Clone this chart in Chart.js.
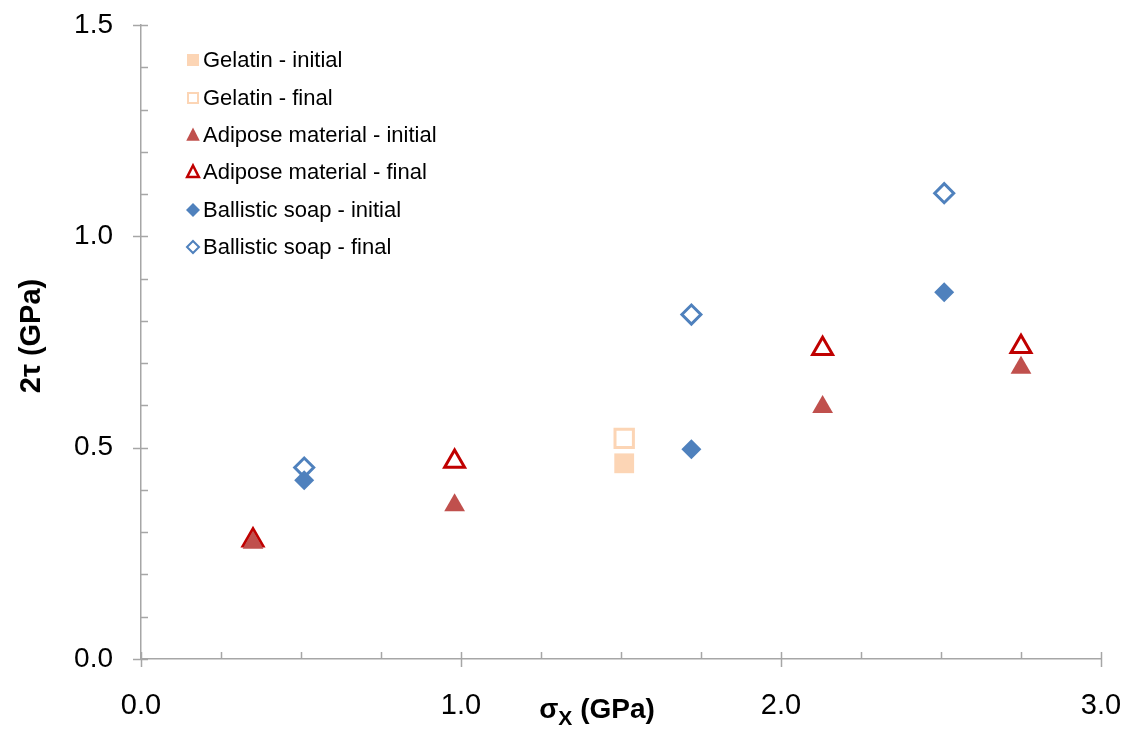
<!DOCTYPE html>
<html>
<head>
<meta charset="utf-8">
<script src="https://cdn.jsdelivr.net/npm/chart.js@4.4.0/dist/chart.umd.min.js"></script>
<style>
  html, body { margin: 0; padding: 0; background: #fff; }
</style>
</head>
<body>
<canvas id="myChart" width="1134" height="733"></canvas>
<script>
// data
let seriesNames = ["Gelatin - initial", "Gelatin - final", "Adipose material - initial",
                   "Adipose material - final", "Ballistic soap - initial", "Ballistic soap - final"];
let gelatinX = [1.51];
let gelatinInitial = [0.463];
let gelatinFinal = [0.522];
let adiposeX = [0.35, 0.98, 2.13, 2.75];
let adiposeInitial = [0.275, 0.364, 0.596, 0.689];
let adiposeFinal = [0.281, 0.467, 0.734, 0.739];
let soapX = [0.51, 1.72, 2.51];
let soapInitial = [0.423, 0.496, 0.868];
let soapFinal = [0.453, 0.815, 1.102];
let xTicks = [0, 1, 2, 3];
let yTicks = [0, 0.5, 1, 1.5];

const peach = "#fcd5b5", brick = "#c0504d", darkRed = "#c00000", blue = "#4f81bd", axisGray = "#a6a6a6";

function pts(xs, ys) { return xs.map((x, i) => ({ x: x, y: ys[i] })); }

let datasets = [
  { label: seriesNames[0], data: pts(gelatinX, gelatinInitial), pointStyle: "rect", pointRadius: 14,
    backgroundColor: peach, borderColor: peach, borderWidth: 0 },
  { label: seriesNames[1], data: pts(gelatinX, gelatinFinal), pointStyle: "rect", pointRadius: 13,
    backgroundColor: "#fff", borderColor: peach, borderWidth: 3 },
  { label: seriesNames[2], data: pts(adiposeX, adiposeInitial), pointStyle: "triangle", pointRadius: 12,
    backgroundColor: brick, borderColor: brick, borderWidth: 0 },
  { label: seriesNames[3], data: pts(adiposeX, adiposeFinal), pointStyle: "triangle", pointRadius: 11.5,
    backgroundColor: "rgba(255,255,255,0)", borderColor: darkRed, borderWidth: 3 },
  { label: seriesNames[4], data: pts(soapX, soapInitial), pointStyle: "rectRot", pointRadius: 10,
    backgroundColor: blue, borderColor: blue, borderWidth: 0 },
  { label: seriesNames[5], data: pts(soapX, soapFinal), pointStyle: "rectRot", pointRadius: 9.5,
    backgroundColor: "#fff", borderColor: blue, borderWidth: 3 }
];

function marker(ctx, style, x, y, r, fill, stroke, lw) {
  ctx.beginPath();
  if (style === "rect") {
    ctx.rect(x - r, y - r, 2 * r, 2 * r);
  } else if (style === "triangle") {
    ctx.moveTo(x, y - r);
    ctx.lineTo(x + r * 0.9, y + r * 0.75);
    ctx.lineTo(x - r * 0.9, y + r * 0.75);
    ctx.closePath();
  } else {
    ctx.moveTo(x, y - r);
    ctx.lineTo(x + r, y);
    ctx.lineTo(x, y + r);
    ctx.lineTo(x - r, y);
    ctx.closePath();
  }
  if (fill) { ctx.fillStyle = fill; ctx.fill(); }
  if (lw > 0) { ctx.lineWidth = lw; ctx.strokeStyle = stroke; ctx.stroke(); }
}

const overlay = {
  id: "overlay",
  afterDraw(chart) {
    const ctx = chart.ctx, xs = chart.scales.x, ys = chart.scales.y, a = chart.chartArea;
    ctx.save();
    // tick marks: major ones cross the axis, minor ones point inwards
    ctx.strokeStyle = axisGray;
    ctx.lineWidth = 1.5;
    ctx.beginPath();
    for (let v = 0; v <= 3.0001; v += 0.25) {
      const px = Math.round(xs.getPixelForValue(v)) + 0.5;
      const major = Math.abs(v - Math.round(v)) < 1e-6;
      ctx.moveTo(px, a.bottom - 7);
      ctx.lineTo(px, a.bottom + (major ? 8 : 0));
    }
    for (let v = 0; v <= 1.5001; v += 0.1) {
      const py = Math.round(ys.getPixelForValue(v)) + 0.5;
      const major = Math.abs(v * 2 - Math.round(v * 2)) < 1e-6;
      ctx.moveTo(a.left - (major ? 8 : 0), py);
      ctx.lineTo(a.left + 7, py);
    }
    ctx.stroke();

    // axis titles
    const big = "bold 28px 'Liberation Sans', Arial, sans-serif";
    const small = "bold 21px 'Liberation Sans', Arial, sans-serif";
    ctx.fillStyle = "#000";
    ctx.textBaseline = "alphabetic";
    ctx.font = big;
    const sig = "\u03c3", sub = "X", rest = " (GPa)";
    const wSig = ctx.measureText(sig).width;
    const wRest = ctx.measureText(rest).width;
    ctx.font = small;
    const wSub = ctx.measureText(sub).width;
    let x0 = 597 - (wSig + wSub + wRest) / 2;
    ctx.textAlign = "left";
    ctx.font = big;
    ctx.fillText(sig, x0, 718);
    ctx.font = small;
    ctx.fillText(sub, x0 + wSig, 725);
    ctx.font = big;
    ctx.fillText(rest, x0 + wSig + wSub, 718);

    ctx.save();
    ctx.translate(40, 336);
    ctx.rotate(-Math.PI / 2);
    ctx.textAlign = "center";
    ctx.font = "bold 29px 'Liberation Sans', Arial, sans-serif";
    ctx.fillText("2\u03c4 (GPa)", 0, 0);
    ctx.restore();

    // legend in the upper left of the plot
    const rowsY = [60, 98, 135, 172, 210, 247];
    const legendMarks = [
      ["rect", 6, peach, peach, 0],
      ["rect", 5, "#fff", peach, 2],
      ["triangle", 7.5, brick, brick, 0],
      ["triangle", 6.5, "#fff", darkRed, 2.5],
      ["diamond", 7, blue, blue, 0],
      ["diamond", 6, "#fff", blue, 2]
    ];
    ctx.font = "22px 'Liberation Sans', Arial, sans-serif";
    ctx.textAlign = "left";
    ctx.textBaseline = "middle";
    seriesNames.forEach((name, i) => {
      const m = legendMarks[i];
      marker(ctx, m[0], 193, rowsY[i], m[1], m[2], m[3], m[4]);
      ctx.fillStyle = "#000";
      ctx.fillText(name, 203, rowsY[i] + 1);
    });
    ctx.restore();
  }
};

new Chart("myChart", {
  type: "scatter",
  data: { datasets: datasets },
  options: {
    responsive: false,
    animation: false,
    layout: { padding: { top: 25, right: 33, left: 0, bottom: 0 } },
    plugins: { legend: { display: false }, tooltip: { enabled: false } },
    scales: {
      x: {
        type: "linear", min: 0, max: 3,
        afterBuildTicks: s => { s.ticks = xTicks.map(v => ({ value: v })); },
        afterFit: s => { s.height = 74; s.paddingLeft = 0; s.paddingRight = 0; },
        ticks: { color: "#000", padding: 30, maxRotation: 0,
                 font: { family: "'Liberation Sans', Arial, sans-serif", size: 29 },
                 callback: v => Number(v).toFixed(1) },
        grid: { display: false, drawTicks: false },
        border: { display: true, color: axisGray, width: 1.5 }
      },
      y: {
        type: "linear", min: 0, max: 1.5,
        afterBuildTicks: s => { s.ticks = yTicks.map(v => ({ value: v })); },
        afterFit: s => { s.width = 141; s.paddingTop = 0; s.paddingBottom = 0; },
        ticks: { color: "#000", padding: 28,
                 font: { family: "'Liberation Sans', Arial, sans-serif", size: 28 },
                 callback: v => Number(v).toFixed(1) },
        grid: { display: false, drawTicks: false },
        border: { display: true, color: axisGray, width: 1.5 }
      }
    }
  },
  plugins: [overlay]
});
</script>
</body>
</html>
